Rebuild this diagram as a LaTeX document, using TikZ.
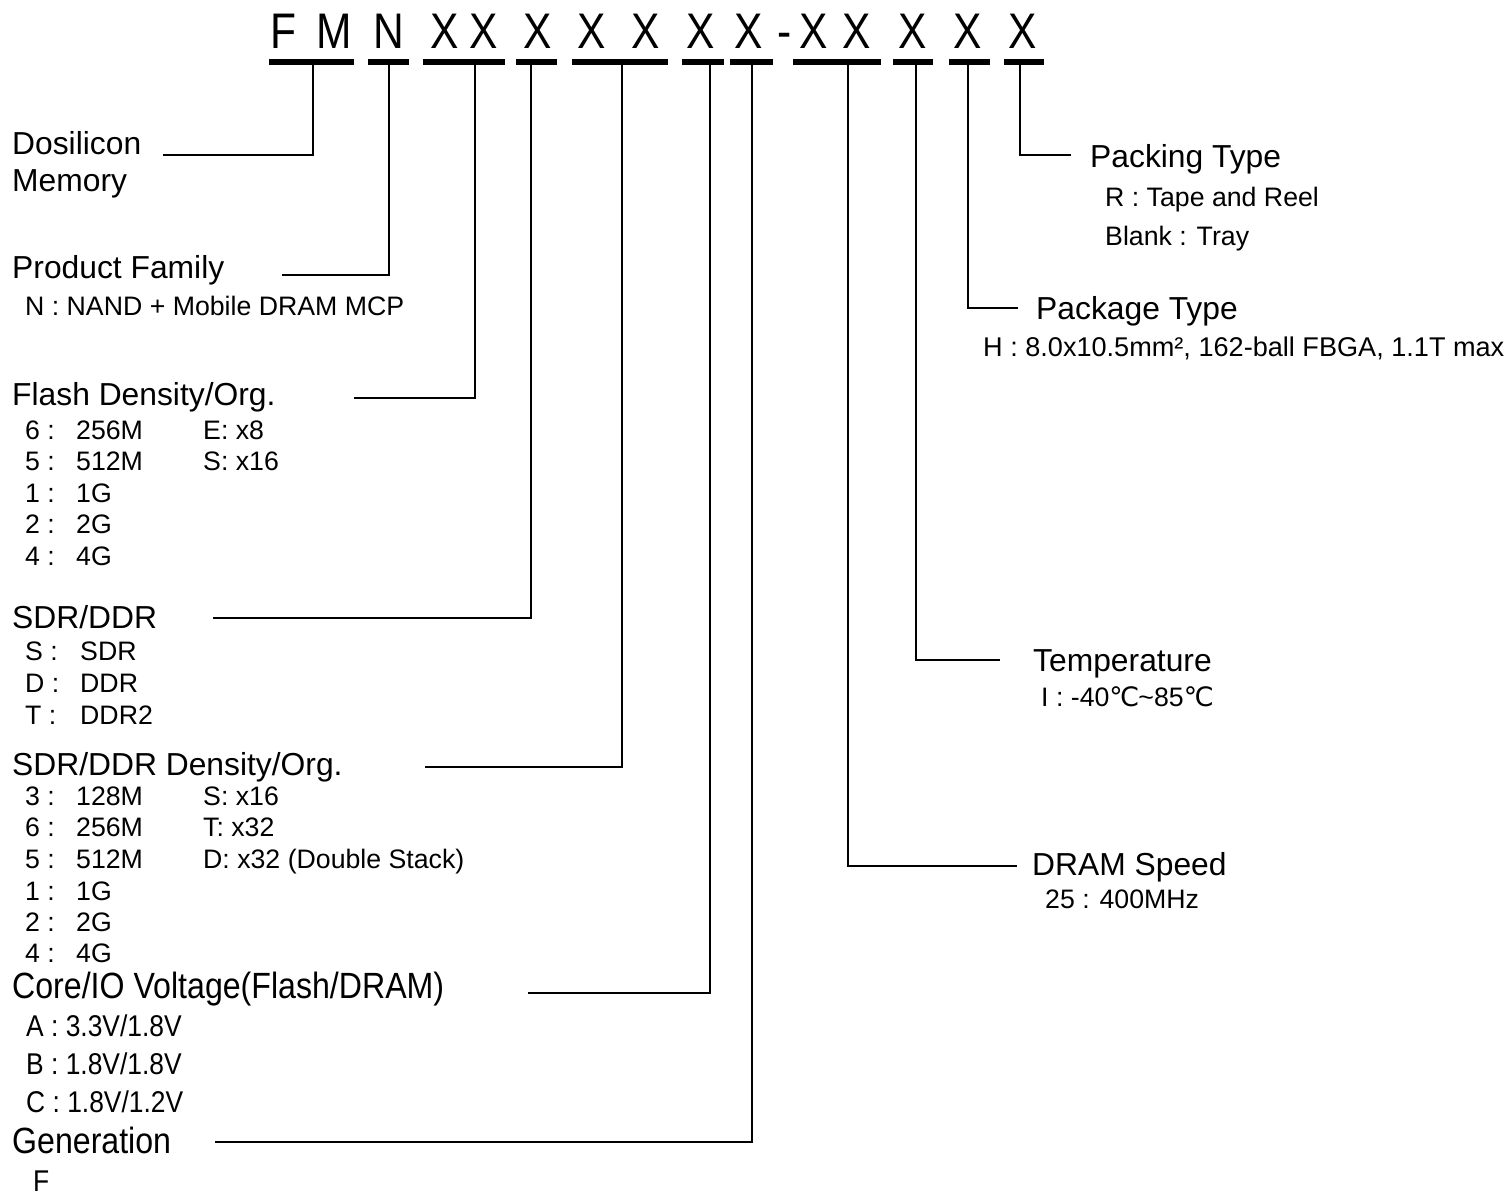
\documentclass[tikz,border=0pt]{standalone}
\usepackage{fontspec}
\setmainfont{Liberation Sans}
\newfontfamily\narrowfont[FakeStretch=0.85]{Liberation Sans}
\newfontfamily\tallfont[FakeStretch=0.88]{Liberation Sans}
\newfontfamily\symfont{DejaVu Sans}
\begin{document}
\begin{tikzpicture}[x=1pt,y=-1pt,
  hdr/.style={font=\narrowfont\fontsize{50}{50}\selectfont, anchor=base, inner sep=0pt},
  bar/.style={fill=black, draw=none, minimum height=6pt, inner sep=0pt},
  big/.style={font=\fontsize{31.8}{36}\selectfont, anchor=base west, inner sep=0pt},
  small/.style={font=\fontsize{26.7}{30}\selectfont, anchor=base west, inner sep=0pt},
  tallbig/.style={font=\tallfont\fontsize{36.5}{40}\selectfont, anchor=base west, inner sep=0pt},
  tallsmall/.style={font=\tallfont\fontsize{30}{34}\selectfont, anchor=base west, inner sep=0pt},
  conn/.style={line width=2.1pt, line join=miter}]
\useasboundingbox[fill=white] (0,0) rectangle (1510,1195);

% ---- header letters
\foreach \x/\t [count=\i] in {283/F,334/M,389/N,445/X,484/X,538/X,592/X,646/X,701/X,749/X,785/-,814/X,857/X,913/X,968/X,1023/X}{
  \node[hdr] (h\i) at (\x,48) {\t};
}

% ---- bars
\node[bar, minimum width=85pt] (b1) at (311.5,61.5) {};
\node[bar, minimum width=41pt] (b2) at (388.5,61.5) {};
\node[bar, minimum width=82pt] (b3) at (464,61.5) {};
\node[bar, minimum width=41pt] (b4) at (536.5,61.5) {};
\node[bar, minimum width=96pt] (b5) at (620,61.5) {};
\node[bar, minimum width=42pt] (b6) at (703,61.5) {};
\node[bar, minimum width=43pt] (b7) at (751.5,61.5) {};
\node[bar, minimum width=88pt] (b8) at (837,61.5) {};
\node[bar, minimum width=40pt] (b9) at (913,61.5) {};
\node[bar, minimum width=41pt] (b10) at (969.5,61.5) {};
\node[bar, minimum width=40pt] (b11) at (1024,61.5) {};

% ---- corners and free ends of connectors
\coordinate (k1) at (313,155);  \coordinate (e1) at (163,155);
\coordinate (k2) at (389,275);  \coordinate (e2) at (282,275);
\coordinate (k3) at (475,398);  \coordinate (e3) at (354,398);
\coordinate (k4) at (531,618);  \coordinate (e4) at (213,618);
\coordinate (k5) at (622,767);  \coordinate (e5) at (425,767);
\coordinate (k6) at (710,993);  \coordinate (e6) at (528,993);
\coordinate (k7) at (752,1142); \coordinate (e7) at (215,1142);
\coordinate (k8) at (848,866);  \coordinate (e8) at (1017,866);
\coordinate (k9) at (916,660);  \coordinate (e9) at (1000,660);
\coordinate (k10) at (968,308); \coordinate (e10) at (1018,308);
\coordinate (k11) at (1020,155); \coordinate (e11) at (1071,155);

\foreach \i in {1,...,11}{
  \draw[conn] (b\i.south -| k\i) -- (k\i) -- (e\i);
}

% ---- left labels
\node[big] (dos) at (12,154) {Dosilicon};
\node[big] (mem) at (12,191) {Memory};

\node[big] (pf) at (12,278) {Product Family};
\node[small] (pfn) at (25,315) {N : NAND + Mobile DRAM MCP};

\node[big] (fd) at (12,405) {Flash Density/Org.};
\foreach \y/\a/\b [count=\i] in {439/6 :/256M,470/5 :/512M,502/1 :/1G,533/2 :/2G,565/4 :/4G}{
  \node[small] (fda\i) at (25,\y) {\a};
  \node[small] (fdb\i) at (76,\y) {\b};
}
\node[small] (fdc1) at (203,439) {E: x8};
\node[small] (fdc2) at (203,470) {S: x16};

\node[big] (sd) at (12,628) {SDR/DDR};
\foreach \y/\a/\b [count=\i] in {660/S :/SDR,692/D :/DDR,724/T :/DDR2}{
  \node[small] (sda\i) at (25,\y) {\a};
  \node[small] (sdb\i) at (80,\y) {\b};
}

\node[big] (dd) at (12,775) {SDR/DDR Density/Org.};
\foreach \y/\a/\b [count=\i] in {805/3 :/128M,836/6 :/256M,868/5 :/512M,900/1 :/1G,931/2 :/2G,962/4 :/4G}{
  \node[small] (dda\i) at (25,\y) {\a};
  \node[small] (ddb\i) at (76,\y) {\b};
}
\node[small] (ddc1) at (203,805) {S: x16};
\node[small] (ddc2) at (203,836) {T: x32};
\node[small] (ddc3) at (203,868) {D: x32 (Double Stack)};

\node[tallbig] (cv) at (12,998) {Core/IO Voltage(Flash/DRAM)};
\node[tallsmall] (cva) at (26,1036) {A : 3.3V/1.8V};
\node[tallsmall] (cvb) at (26,1074) {B : 1.8V/1.8V};
\node[tallsmall] (cvc) at (26,1112) {C : 1.8V/1.2V};

\node[tallbig] (gen) at (12,1153) {Generation};
\node[tallsmall] (genf) at (33,1191) {F};

% ---- right labels
\node[big] (pk) at (1090,167) {Packing Type};
\node[small] (pkr) at (1105,206) {R : Tape and Reel};
\node[small] (pkb) at (1105,245) {Blank : Tray};

\node[big] (pt) at (1036,319) {Package Type};
\node[small, font=\fontsize{27.1}{30}\selectfont] (pth) at (983,356) {H : 8.0x10.5mm², 162-ball FBGA, 1.1T max};

\node[big] (tp) at (1033,671) {Temperature};
\node[small] (tpi) at (1041,706) {I : -40{\symfont ℃}\kern-1pt\~{}85{\symfont ℃}};

\node[big] (ds) at (1032,875) {DRAM Speed};
\node[small] (dsv) at (1045,908) {25 : 400MHz};
\end{tikzpicture}
\end{document}
